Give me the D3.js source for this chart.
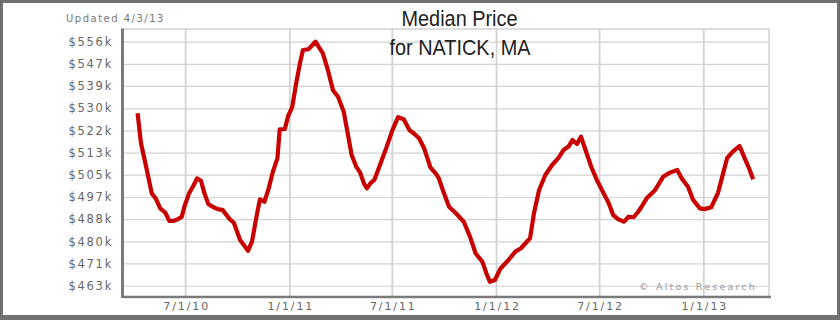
<!DOCTYPE html>
<html>
<head>
<meta charset="utf-8">
<script src="https://cdn.jsdelivr.net/npm/d3@7/dist/d3.min.js"></script>
<style>
  body { margin: 0; background: #fff; }
  svg { display: block; }
</style>
</head>
<body>
<div id="chart"></div>
<script>
// weekly-ish median price readings (in $k)
const dates = [
    "2010-04-08", "2010-04-14", "2010-04-23", "2010-05-03", "2010-05-10", "2010-05-18", "2010-05-27",
    "2010-06-03", "2010-06-10", "2010-06-18", "2010-06-25", "2010-06-30", "2010-07-08", "2010-07-16",
    "2010-07-22", "2010-07-29", "2010-08-04", "2010-08-11", "2010-08-20", "2010-08-29", "2010-09-05",
    "2010-09-18", "2010-09-25", "2010-10-06", "2010-10-20", "2010-10-27", "2010-11-04", "2010-11-10",
    "2010-11-18", "2010-11-25", "2010-12-03", "2010-12-11", "2010-12-15", "2010-12-24", "2010-12-30",
    "2011-01-06", "2011-01-13", "2011-01-20", "2011-01-25", "2011-02-04", "2011-02-16", "2011-03-01",
    "2011-03-10", "2011-03-19", "2011-03-28", "2011-04-07", "2011-04-14", "2011-04-21", "2011-04-29",
    "2011-05-06", "2011-05-13", "2011-05-18", "2011-05-24", "2011-05-31", "2011-06-09", "2011-06-21",
    "2011-07-02", "2011-07-12", "2011-07-22", "2011-08-01", "2011-08-10", "2011-08-18", "2011-08-27",
    "2011-09-07", "2011-09-17", "2011-09-22", "2011-10-01", "2011-10-10", "2011-10-22", "2011-11-05",
    "2011-11-16", "2011-11-26", "2011-12-08", "2011-12-15", "2011-12-21", "2011-12-30", "2012-01-09",
    "2012-01-23", "2012-02-04", "2012-02-14", "2012-03-01", "2012-03-08", "2012-03-17", "2012-03-28",
    "2012-04-09", "2012-04-20", "2012-04-29", "2012-05-08", "2012-05-15", "2012-05-23", "2012-05-30",
    "2012-06-07", "2012-06-17", "2012-06-27", "2012-07-09", "2012-07-18", "2012-07-26", "2012-08-04",
    "2012-08-14", "2012-08-22", "2012-08-31", "2012-09-08", "2012-09-14", "2012-09-23", "2012-10-08",
    "2012-10-22", "2012-11-03", "2012-11-16", "2012-11-24", "2012-12-05", "2012-12-14", "2012-12-26",
    "2013-01-03", "2013-01-15", "2013-01-27", "2013-02-05", "2013-02-12", "2013-02-22", "2013-03-06",
    "2013-03-15", "2013-03-24", "2013-03-30"
];
const prices = [
    528.7, 517.3, 508.4, 498.2, 496.3, 492.5, 490.8,
    487.7, 487.7, 488.3, 489.3, 493.4, 498.2, 501.3,
    503.9, 503.0, 498.2, 494.1, 492.9, 492.1, 491.9,
    488.3, 487.0, 480.4, 476.3, 479.8, 489.3, 495.9,
    495.0, 499.7, 506.5, 511.6, 522.6, 522.7, 527.7,
    531.0, 540.1, 548.0, 552.8, 553.1, 556.0, 551.6,
    545.2, 537.5, 535.0, 529.3, 521.1, 512.8, 508.4,
    506.1, 501.8, 500.1, 502.0, 503.3, 508.4, 515.4,
    522.3, 527.2, 526.4, 522.3, 520.8, 519.2, 515.4,
    508.1, 505.6, 503.9, 498.2, 493.1, 490.6, 487.4,
    481.7, 475.3, 472.1, 467.7, 464.5, 465.2, 469.6,
    472.8, 476.0, 477.3, 481.1, 490.6, 499.5, 505.2,
    509.0, 511.6, 514.7, 516.0, 518.5, 517.0, 519.8,
    514.7, 508.4, 503.3, 498.2, 494.4, 489.9, 488.3,
    487.4, 489.3, 489.1, 491.2, 493.1, 496.3, 499.5,
    504.5, 506.1, 507.1, 503.9, 500.7, 495.7, 492.5,
    492.2, 492.9, 498.4, 505.8, 511.6, 514.1, 516.2,
    511.6, 507.1, 503.6
];

const xTicks = ["2010-07-01", "2011-01-01", "2011-07-01", "2012-01-01", "2012-07-01", "2013-01-01"];
const yTicks = [463.0, 471.5, 479.9, 488.4, 496.8, 505.3, 513.7, 522.2, 530.6, 539.1, 547.5, 556.0];
const yLabels = ["$463k", "$471k", "$480k", "$488k", "$497k", "$505k", "$513k", "$522k", "$530k", "$539k", "$547k", "$556k"];

const parse = d3.timeParse("%Y-%m-%d");
const data = dates.map((d, i) => ({ date: parse(d), price: prices[i] }));

const width = 840, height = 320;
const plot = { left: 124, top: 29, right: 769, bottom: 296 };

const x = d3.scaleTime()
    .domain([parse("2010-03-15"), parse("2013-04-27")])
    .range([plot.left, plot.right]);

const y = d3.scaleLinear()
    .domain([459.1, 560.8])
    .range([plot.bottom, plot.top]);

const svg = d3.select("#chart").append("svg")
    .attr("width", width)
    .attr("height", height);

svg.append("rect").attr("width", width).attr("height", height).attr("fill", "#fff");

// horizontal grid
svg.append("g")
    .attr("transform", "translate(" + plot.left + ",0)")
    .call(d3.axisLeft(y).tickValues(yTicks).tickSize(-(plot.right - plot.left)).tickFormat(""))
    .call(g => g.select(".domain").remove())
    .call(g => g.selectAll("line").attr("stroke", "#d2d2d2").attr("stroke-width", 1.2));

// vertical grid
svg.append("g")
    .attr("transform", "translate(0," + plot.bottom + ")")
    .call(d3.axisBottom(x).tickValues(xTicks.map(parse)).tickSize(-(plot.bottom - plot.top)).tickFormat(""))
    .call(g => g.select(".domain").remove())
    .call(g => g.selectAll("line").attr("stroke", "#d2d2d2").attr("stroke-width", 1.8));

// plot frame (top and right)
svg.append("path")
    .attr("d", `M${plot.left},${plot.top}H${plot.right}V${plot.bottom}`)
    .attr("fill", "none")
    .attr("stroke", "#d2d2d2")
    .attr("stroke-width", 1.5);

// dark axis bars
svg.append("rect")
    .attr("x", plot.left - 3).attr("y", plot.top - 0.5)
    .attr("width", 3).attr("height", plot.bottom - plot.top + 2.5)
    .attr("fill", "#7a7a7a");
svg.append("rect")
    .attr("x", plot.left).attr("y", plot.bottom - 0.3)
    .attr("width", plot.right - plot.left + 2).attr("height", 2.5)
    .attr("fill", "#7a7a7a");

// y labels
svg.append("g")
    .attr("transform", "translate(" + (plot.left + 2) + ",0)")
    .call(d3.axisLeft(y).tickValues(yTicks).tickSize(0).tickPadding(13).tickFormat((d, i) => yLabels[i]))
    .call(g => g.select(".domain").remove())
    .call(g => g.selectAll("text")
        .attr("fill", "#666")
        .style("font-family", "'DejaVu Sans', Verdana, sans-serif")
        .style("font-size", "11.5px")
        .style("letter-spacing", "1.7px"));

// x labels
svg.append("g")
    .attr("transform", "translate(1," + (plot.bottom + 3) + ")")
    .call(d3.axisBottom(x).tickValues(xTicks.map(parse)).tickSize(0).tickPadding(3).tickFormat(d3.timeFormat("%-m/%-d/%y")))
    .call(g => g.select(".domain").remove())
    .call(g => g.selectAll("text")
        .attr("fill", "#666")
        .style("font-family", "'DejaVu Sans', Verdana, sans-serif")
        .style("font-size", "11px")
        .style("letter-spacing", "1.9px"));

// price line
const line = d3.line()
    .x(d => x(d.date))
    .y(d => y(d.price));

svg.append("path")
    .datum(data)
    .attr("d", line)
    .attr("fill", "none")
    .attr("stroke", "#c80000")
    .attr("stroke-width", 4.2)
    .attr("stroke-linejoin", "round")
    .attr("stroke-linecap", "butt");

// texts
svg.append("text")
    .attr("x", 66).attr("y", 21.5)
    .attr("fill", "#777")
    .style("font-family", "'DejaVu Sans', Verdana, sans-serif")
    .style("font-size", "10px")
    .style("letter-spacing", "1.5px")
    .text("Updated 4/3/13");

svg.append("text")
    .attr("x", 459.5).attr("y", 26)
    .attr("text-anchor", "middle")
    .attr("textLength", 116).attr("lengthAdjust", "spacingAndGlyphs")
    .attr("fill", "#222")
    .style("font-family", "'Liberation Sans', Arial, sans-serif")
    .style("font-size", "22px")
    .text("Median Price");

svg.append("text")
    .attr("x", 460).attr("y", 55)
    .attr("text-anchor", "middle")
    .attr("textLength", 141).attr("lengthAdjust", "spacingAndGlyphs")
    .attr("fill", "#222")
    .style("font-family", "'Liberation Sans', Arial, sans-serif")
    .style("font-size", "22px")
    .text("for NATICK, MA");

svg.append("text")
    .attr("x", 757).attr("y", 290)
    .attr("text-anchor", "end")
    .attr("fill", "#999")
    .style("font-family", "'DejaVu Sans', Verdana, sans-serif")
    .style("font-size", "9.5px")
    .style("letter-spacing", "2.2px")
    .text("\u00a9 Altos Research");

// outer frame
const frame = "#707070";
svg.append("rect").attr("x", 0).attr("y", 0).attr("width", width).attr("height", 3).attr("fill", frame);
svg.append("rect").attr("x", 0).attr("y", 0).attr("width", 3).attr("height", height).attr("fill", frame);
svg.append("rect").attr("x", width - 3).attr("y", 0).attr("width", 3).attr("height", height).attr("fill", frame);
svg.append("rect").attr("x", 0).attr("y", height - 5).attr("width", width).attr("height", 5).attr("fill", frame);
</script>
</body>
</html>
